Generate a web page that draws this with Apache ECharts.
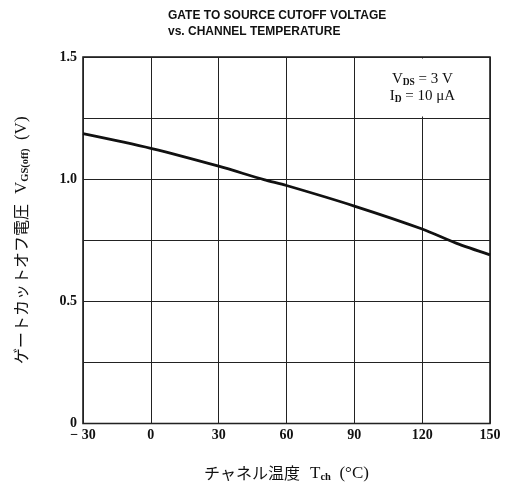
<!DOCTYPE html>
<html>
<head>
<meta charset="utf-8">
<script src="https://cdn.jsdelivr.net/npm/echarts@6/dist/echarts.min.js"></script>
<style>html,body{margin:0;padding:0;background:#fff}#c{width:508px;height:488px}</style>
</head>
<body>
<div id="c"></div>
<script>
// Data
const tempC = [-30, 0, 30, 50, 60, 90, 120, 135, 150];
const vgsOff = [1.186, 1.126, 1.053, 0.998, 0.974, 0.890, 0.796, 0.738, 0.690];
const xTicks = [-30, 0, 30, 60, 90, 120, 150];
const yTickLabels = ['0', '0.5', '1.0', '1.5'];
const titleLines = ['GATE TO SOURCE CUTOFF VOLTAGE', 'vs. CHANNEL TEMPERATURE'];
const condBox = [[90, 1.25], [150, 1.5]];

const serif = '"Liberation Serif","DejaVu Serif","Noto Sans CJK JP",serif';
const chart = echarts.init(document.getElementById('c'), null, {renderer: 'canvas'});
const seriesData = tempC.map((t, i) => [t, vgsOff[i]]);

const nameRich = {
  j: {fontFamily: '"Noto Sans CJK JP",serif', fontSize: 16, color: '#111'},
  g: {fontSize: 18},
  v: {fontFamily: serif, fontSize: 17, color: '#111'},
  s: {fontFamily: serif, fontSize: 10.5, fontWeight: 'bold', color: '#111', padding: [9, 0, 0, 0]}
};

chart.setOption({
  animation: false,
  backgroundColor: '#fff',
  title: {
    text: titleLines.join('\n'),
    left: 163, top: 3,
    textStyle: {fontFamily: '"Liberation Sans",Arial,sans-serif', fontWeight: 'bold', fontSize: 12, lineHeight: 16, color: '#111'}
  },
  grid: {left: 83, right: 18, top: 57, bottom: 61, show: true, borderColor: '#111', borderWidth: 1.5, backgroundColor: 'transparent'},
  xAxis: {
    type: 'value', min: -30, max: 150, interval: 30,
    axisLine: {show: false},
    axisTick: {show: false},
    splitLine: {show: true, lineStyle: {color: '#222', width: 1}},
    axisLabel: {
      margin: 5, color: '#111', fontFamily: serif, fontWeight: 'bold', fontSize: 14,
      formatter: v => xTicks.indexOf(v) < 0 ? '' : (v < 0 ? '\u2212 ' + Math.abs(v) : String(v))
    },
    name: '{j|チャネル温度}{g|  }{v|T}{s|ch}{v|  (°C)}',
    nameLocation: 'middle', nameGap: 40,
    nameTextStyle: {color: '#111', rich: nameRich}
  },
  yAxis: {
    type: 'value', min: 0, max: 1.5, interval: 0.25,
    axisLine: {show: false},
    axisTick: {show: false},
    splitLine: {show: true, lineStyle: {color: '#222', width: 1}},
    axisLabel: {
      margin: 6, color: '#111', fontFamily: serif, fontWeight: 'bold', fontSize: 14,
      formatter: v => {
        const s = v === 0 ? '0' : v.toFixed(1);
        return yTickLabels.indexOf(s) < 0 ? '' : s;
      }
    },
    name: '{j|ゲートカットオフ電圧}{g|  }{v|V}{s|GS(off)}{v|  (V)}',
    nameLocation: 'middle', nameGap: 52, nameRotate: 90,
    nameTextStyle: {color: '#111', rich: nameRich}
  },
  series: [{
    type: 'line',
    data: seriesData,
    smooth: 0.3,
    showSymbol: false,
    lineStyle: {color: '#111', width: 2.8},
    markArea: {
      silent: true,
      itemStyle: {color: '#fff'},
      label: {
        show: true, position: 'inside',
        formatter: '{v|V}{s|DS}{v| = 3 V}\n{v|I}{s|D}{v| = 10 μA}',
        rich: {
          v: {fontFamily: serif, fontSize: 15, color: '#111', lineHeight: 17},
          s: {fontFamily: serif, fontSize: 9.5, fontWeight: 'bold', color: '#111', padding: [7, 0, 0, 0], lineHeight: 17}
        }
      },
      data: [[{coord: [condBox[0][0] + 0.9, condBox[0][1] + 0.006]}, {coord: [condBox[1][0] - 0.7, condBox[1][1] - 0.006]}]]
    }
  }]
});
</script>
</body>
</html>
